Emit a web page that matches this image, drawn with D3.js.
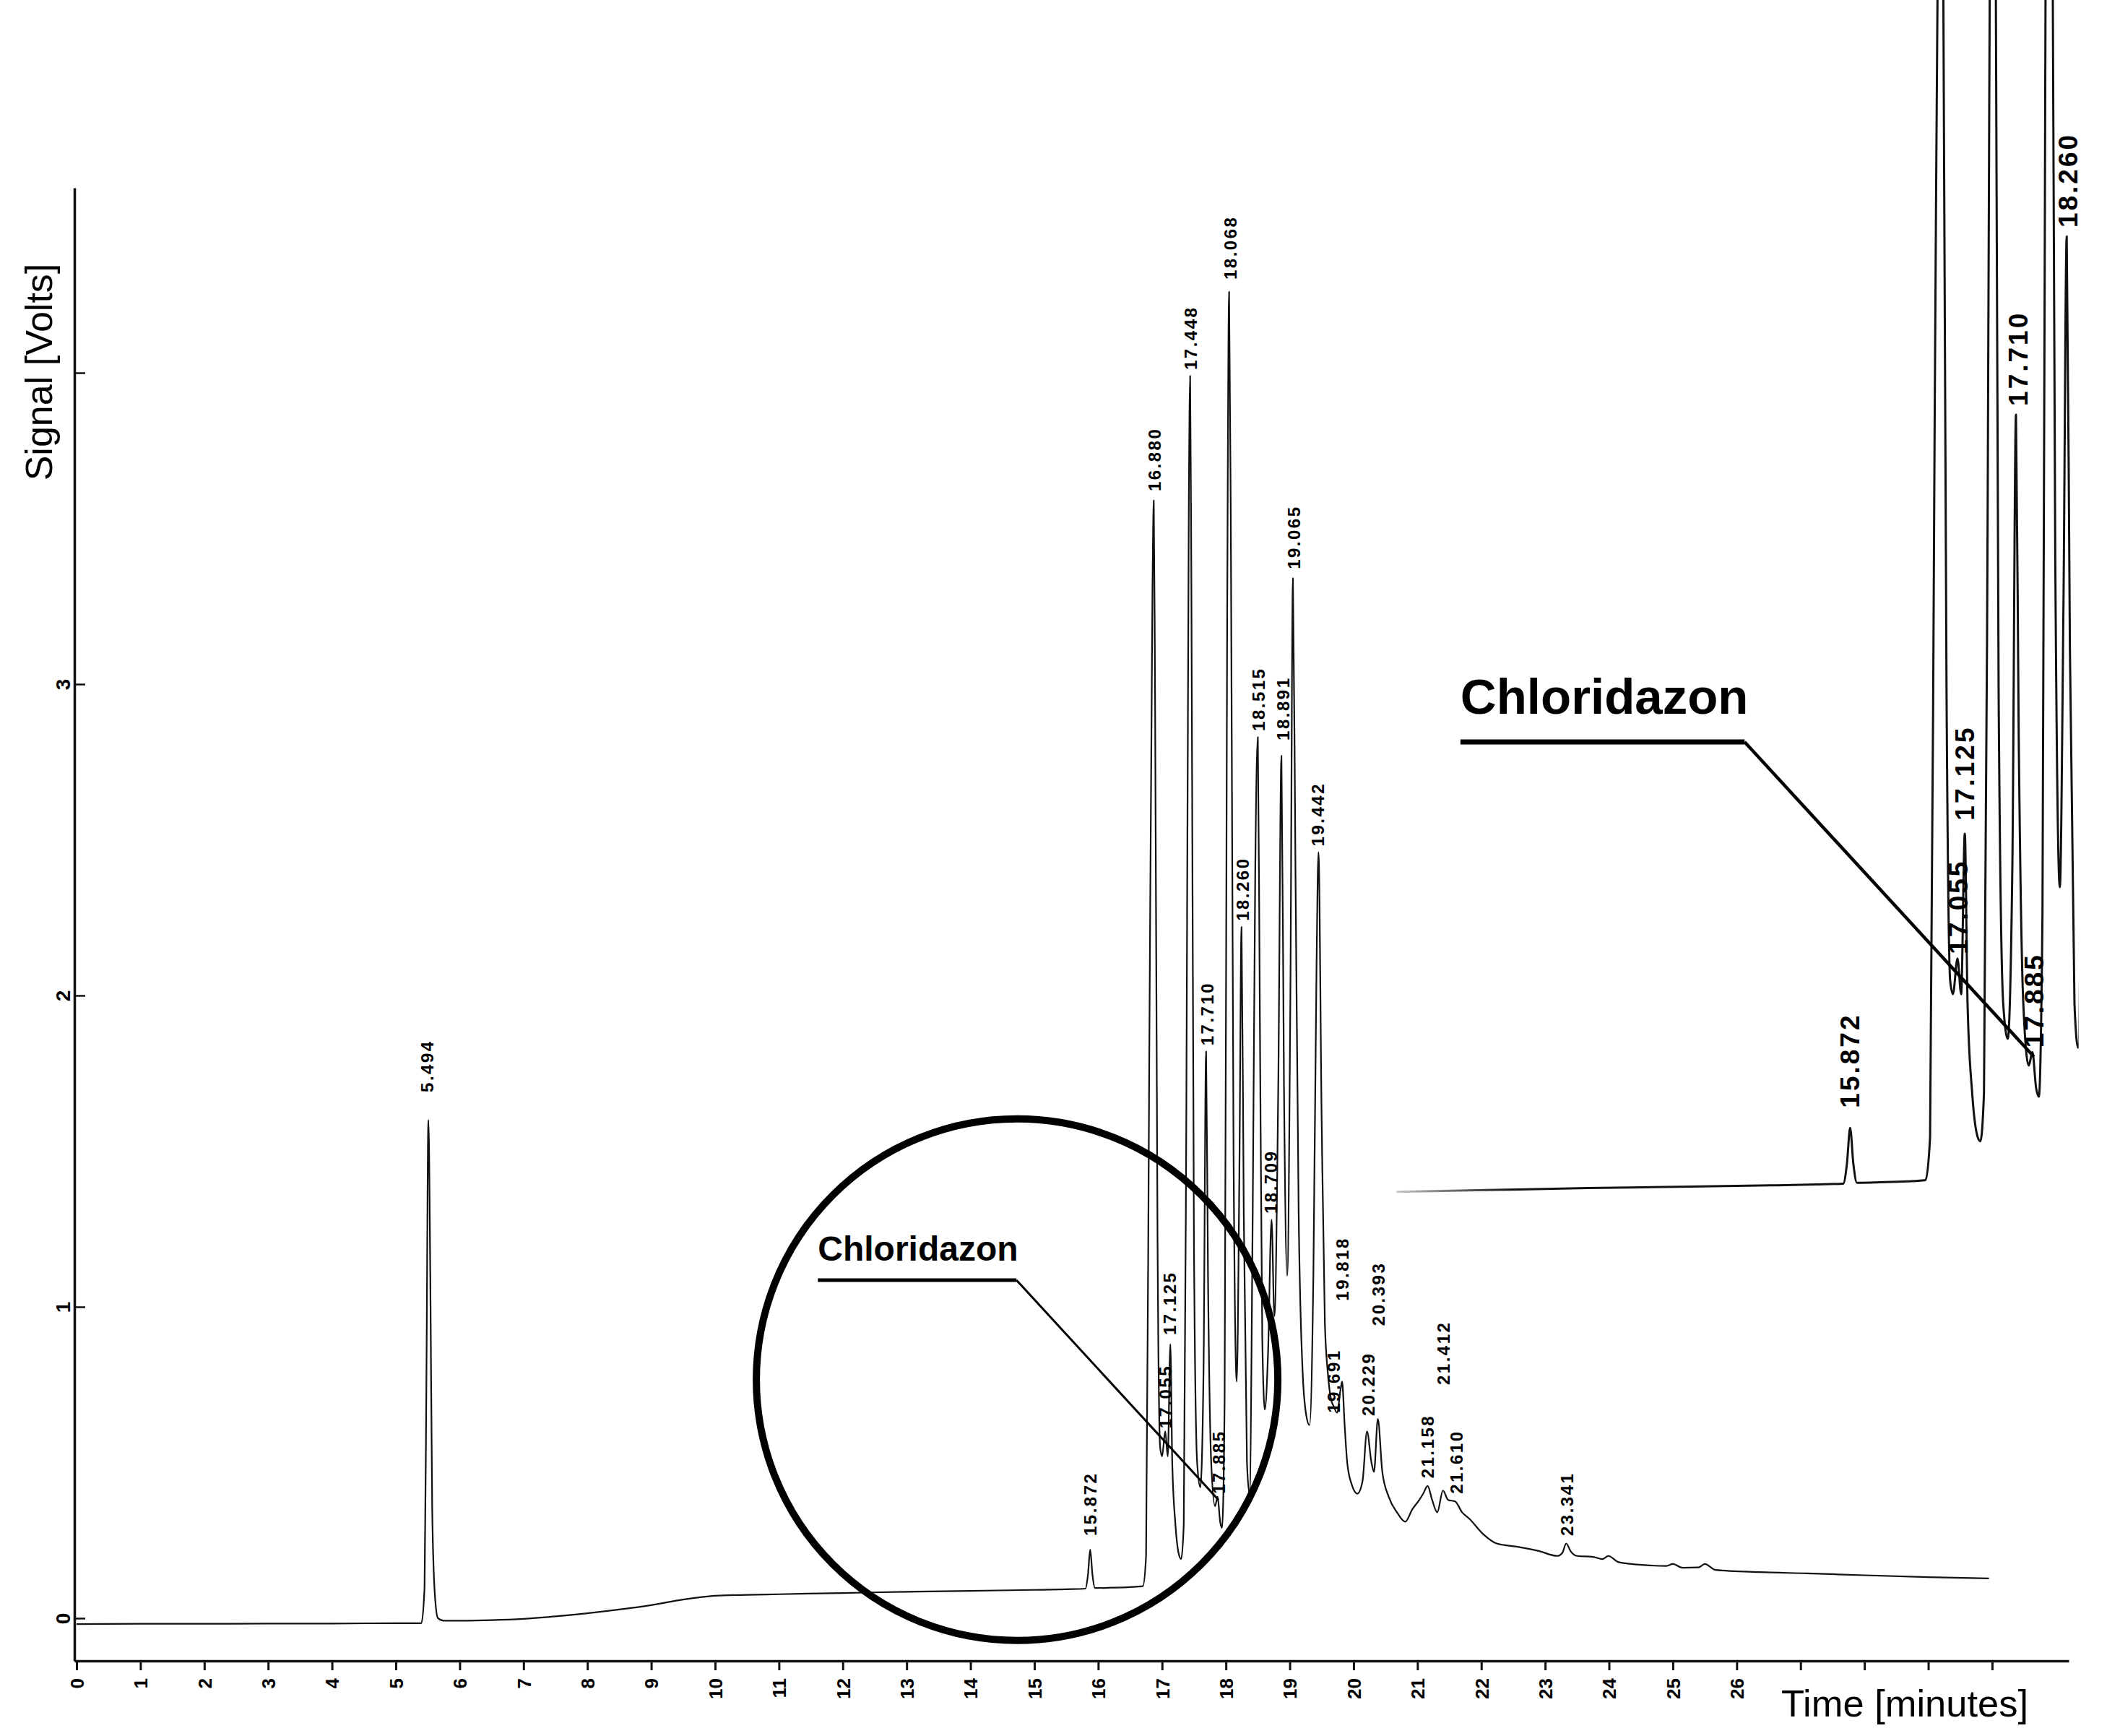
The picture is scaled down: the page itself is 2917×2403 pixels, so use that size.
<!DOCTYPE html>
<html><head><meta charset="utf-8">
<script src="https://cdn.jsdelivr.net/npm/d3@7"></script>
<style>html,body{margin:0;padding:0;background:#fff;} svg{display:block;}</style>
</head><body>
<script>
// ---------- DATA ----------
const traceTime = [0.0,1.0,2.0,3.0,4.0,5.0,5.40,5.45,5.48,5.51,5.54,5.57,5.61,5.66,5.75,6.5,7.0,7.5,8.0,8.5,9.0,9.5,10.0,10.5,11.0,12.0,13.0,14.0,15.0,15.5,15.80,15.84,15.875,15.91,15.95,16.2,16.50,16.70,16.75,16.80,16.85,16.87,16.89,16.93,16.97,17.00,17.05,17.09,17.13,17.16,17.21,17.27,17.30,17.34,17.38,17.42,17.44,17.46,17.50,17.55,17.60,17.65,17.69,17.72,17.77,17.83,17.87,17.91,17.94,17.98,18.02,18.05,18.08,18.12,18.17,18.21,18.245,18.28,18.33,18.37,18.42,18.46,18.50,18.53,18.57,18.61,18.66,18.715,18.76,18.82,18.87,18.91,18.96,19.01,19.05,19.09,19.14,19.20,19.26,19.31,19.37,19.42,19.45,19.50,19.55,19.60,19.65,19.69,19.74,19.80,19.82,19.86,19.90,19.97,20.06,20.14,20.21,20.28,20.32,20.38,20.45,20.55,20.68,20.81,20.92,21.03,21.09,21.16,21.23,21.31,21.40,21.48,21.59,21.70,21.81,22.03,22.24,22.55,22.90,23.19,23.27,23.33,23.40,23.50,23.75,23.90,23.99,24.15,24.60,24.90,25.00,25.15,25.40,25.50,25.67,26.36,27.10,28.00,29.00,29.95];
const traceSignal = [-0.019,-0.018,-0.018,-0.017,-0.017,-0.016,-0.016,0.10,0.80,1.60,1.10,0.35,0.08,0.00,-0.008,-0.006,-0.002,0.006,0.016,0.028,0.042,0.060,0.072,0.075,0.077,0.081,0.085,0.088,0.091,0.093,0.095,0.14,0.22,0.14,0.097,0.098,0.100,0.103,0.20,1.8,3.3,3.59,3.0,1.2,0.55,0.52,0.60,0.52,0.88,0.50,0.30,0.20,0.19,0.30,1.6,3.6,3.99,3.3,1.2,0.50,0.42,0.80,1.82,1.1,0.50,0.36,0.39,0.31,0.29,0.70,3.2,4.26,3.4,1.5,0.76,1.4,2.22,1.3,0.50,0.40,1.3,2.4,2.83,2.0,0.90,0.67,0.85,1.28,0.97,1.7,2.77,1.7,1.10,2.0,3.34,2.4,1.3,0.80,0.65,0.62,1.1,2.1,2.46,1.6,0.95,0.78,0.70,0.68,0.66,0.74,0.76,0.62,0.50,0.43,0.40,0.44,0.60,0.50,0.47,0.64,0.47,0.39,0.34,0.31,0.35,0.38,0.40,0.425,0.38,0.34,0.41,0.38,0.375,0.34,0.32,0.27,0.24,0.23,0.216,0.20,0.21,0.24,0.215,0.20,0.197,0.19,0.20,0.18,0.17,0.168,0.174,0.162,0.163,0.174,0.155,0.148,0.144,0.138,0.132,0.128];

const peakNames = ["5.494","15.872","16.880","17.055","17.125","17.448","17.710","17.885","18.068","18.260","18.515","18.709","18.891","19.065","19.442","19.691","19.818","20.229","20.393","21.158","21.412","21.610","23.341"];
const peakLabelLevels = [1.68,0.255,3.61,0.60,0.90,4.00,1.83,0.39,4.29,2.23,2.84,1.29,2.81,3.36,2.47,0.65,1.01,0.64,0.93,0.44,0.74,0.39,0.255];
const insetPeakNames = ["15.872","17.055","17.125","17.710","17.885","18.260"];

const xTickValues = [0,1,2,3,4,5,6,7,8,9,10,11,12,13,14,15,16,17,18,19,20,21,22,23,24,25,26,27,28,29,30];
const xTickLabels = ["0","1","2","3","4","5","6","7","8","9","10","11","12","13","14","15","16","17","18","19","20","21","22","23","24","25","26","","","",""];
const yTickValues = [0,1,2,3,4];
const yTickLabels = ["0","1","2","3",""];

const xTitle = "Time [minutes]";
const yTitle = "Signal [Volts]";
const calloutText = "Chloridazon";
// callout geometry in data units (minutes, volts)
const calloutTextAt = [11.61, 1.149];
const calloutElbow = [14.72, 1.086];
const calloutTarget = [17.885, 0.38];
const circleCenter = [14.73, 0.766];
const insetTimeRange = [10.91, 18.375];

// ---------- SETUP ----------
const W = 2917, H = 2403;
const FONT = "'Liberation Sans', Arial, Helvetica, sans-serif";
const svg = d3.select("body").append("svg").attr("width", W).attr("height", H)
  .attr("viewBox", `0 0 ${W} ${H}`).style("background", "#fff");
svg.append("rect").attr("width", W).attr("height", H).attr("fill", "#fff");

const x = d3.scaleLinear().domain([-0.034, 31.2]).range([103, 2864]);
const y = d3.scaleLinear().domain([-0.137, 4.594]).range([2299, 260]);

// inset (magnified copy)
const xi = d3.scaleLinear().domain([0, 31.2]).range([553.2, 553.2 + 126.5 * 31.2]);
const yi = d3.scaleLinear().domain([0, 4]).range([1697, 1697 - 617 * 4]);

const pts = traceTime.map((t, i) => [t, traceSignal[i]]);

const defs = svg.append("defs");
defs.append("clipPath").attr("id", "insetClip").append("rect")
  .attr("x", xi(insetTimeRange[0])).attr("y", -200)
  .attr("width", xi(insetTimeRange[1]) - xi(insetTimeRange[0])).attr("height", 2000);
const grad = defs.append("linearGradient").attr("id", "fadeIn")
  .attr("gradientUnits", "userSpaceOnUse")
  .attr("x1", xi(insetTimeRange[0])).attr("x2", xi(insetTimeRange[0]) + 160)
  .attr("y1", 0).attr("y2", 0);
grad.append("stop").attr("offset", 0).attr("stop-color", "#c8c8c8");
grad.append("stop").attr("offset", 1).attr("stop-color", "#111");

// ---------- AXES ----------
const xAxis = d3.axisBottom(x).tickValues(xTickValues).tickSize(13).tickSizeOuter(0)
  .tickFormat((d, i) => xTickLabels[i]);
const gx = svg.append("g").attr("transform", `translate(0,${y.range()[0]})`).call(xAxis);
gx.select(".domain").attr("stroke", "#111").attr("stroke-width", 3.5);
gx.selectAll(".tick line").attr("stroke", "#111").attr("stroke-width", 3);
gx.selectAll(".tick text")
  .attr("transform", "rotate(-90)")
  .attr("x", -24).attr("y", 0).attr("dy", "0.36em")
  .attr("text-anchor", "end")
  .style("font-family", FONT).style("font-size", "26px").style("font-weight", "bold").attr("fill", "#000");

const yAxis = d3.axisLeft(y).tickValues(yTickValues).tickSize(-15).tickSizeOuter(0)
  .tickFormat((d, i) => yTickLabels[i]);
const gy = svg.append("g").attr("transform", `translate(${x.range()[0]},0)`).call(yAxis);
gy.select(".domain").attr("stroke", "#111").attr("stroke-width", 3.5);
gy.selectAll(".tick line").attr("stroke", "#111").attr("stroke-width", 2.5);
gy.selectAll(".tick text")
  .attr("transform", "rotate(-90)")
  .attr("x", 0).attr("y", -6).attr("dy", 0)
  .attr("text-anchor", "middle")
  .style("font-family", FONT).style("font-size", "28px").style("font-weight", "bold").attr("fill", "#000");

// axis titles
svg.append("text").attr("x", 2466).attr("y", 2376)
  .style("font-family", FONT).style("font-size", "52px").attr("fill", "#000")
  .attr("textLength", 342).attr("lengthAdjust", "spacingAndGlyphs")
  .text(xTitle);
svg.append("text").attr("transform", "translate(72,515) rotate(-90)")
  .attr("text-anchor", "middle")
  .style("font-family", FONT).style("font-size", "52px").attr("fill", "#000")
  .text(yTitle);

// ---------- DRAW A VIEW ----------
function drawView(g, xs, ys, opts) {
  const line = d3.line().x(d => xs(d[0])).y(d => ys(d[1])).curve(d3.curveMonotoneX);
  g.append("path").datum(pts).attr("d", line)
    .attr("fill", "none").attr("stroke", opts.stroke)
    .attr("stroke-width", opts.lineWidth).attr("stroke-linejoin", "round");

  const names = opts.names;
  g.selectAll("text.peak").data(names).enter().append("text")
    .attr("class", "peak")
    .attr("transform", d => {
      const i = peakNames.indexOf(d);
      return `translate(${xs(+d)},${ys(peakLabelLevels[i])}) rotate(-90)`;
    })
    .attr("x", opts.labelGap).attr("dy", "0.36em")
    .attr("text-anchor", "start")
    .style("font-family", FONT).style("font-size", opts.labelSize + "px")
    .style("font-weight", "bold")
    .style("letter-spacing", opts.labelSpacing + "px")
    .attr("fill", "#000")
    .text(d => d);

  // callout
  g.append("text").attr("x", xs(calloutTextAt[0])).attr("y", ys(calloutTextAt[1]))
    .style("font-family", FONT).style("font-size", opts.calloutSize + "px")
    .style("font-weight", "bold").attr("fill", "#000").text(calloutText);
  g.append("line")
    .attr("x1", xs(calloutTextAt[0])).attr("y1", ys(calloutElbow[1]))
    .attr("x2", xs(calloutElbow[0])).attr("y2", ys(calloutElbow[1]))
    .attr("stroke", "#000").attr("stroke-width", opts.underline);
  g.append("line")
    .attr("x1", xs(calloutElbow[0])).attr("y1", ys(calloutElbow[1]))
    .attr("x2", xs(calloutTarget[0])).attr("y2", ys(calloutTarget[1]))
    .attr("stroke", "#000").attr("stroke-width", opts.leader);
}

const mainG = svg.append("g");
drawView(mainG, x, y, {
  names: peakNames, stroke: "#111", lineWidth: 2.2,
  labelSize: 24, labelSpacing: 2.5, labelGap: 4,
  calloutSize: 48, underline: 5, leader: 3
});

// circle around the chloridazon region
mainG.append("circle")
  .attr("cx", x(circleCenter[0])).attr("cy", y(circleCenter[1])).attr("r", 361)
  .attr("fill", "none").attr("stroke", "#000").attr("stroke-width", 10);

const insetG = svg.append("g").attr("clip-path", "url(#insetClip)");
drawView(insetG, xi, yi, {
  names: insetPeakNames, stroke: "url(#fadeIn)", lineWidth: 3,
  labelSize: 37, labelSpacing: 3, labelGap: 6,
  calloutSize: 69, underline: 7, leader: 4.5
});
</script>
</body></html>
